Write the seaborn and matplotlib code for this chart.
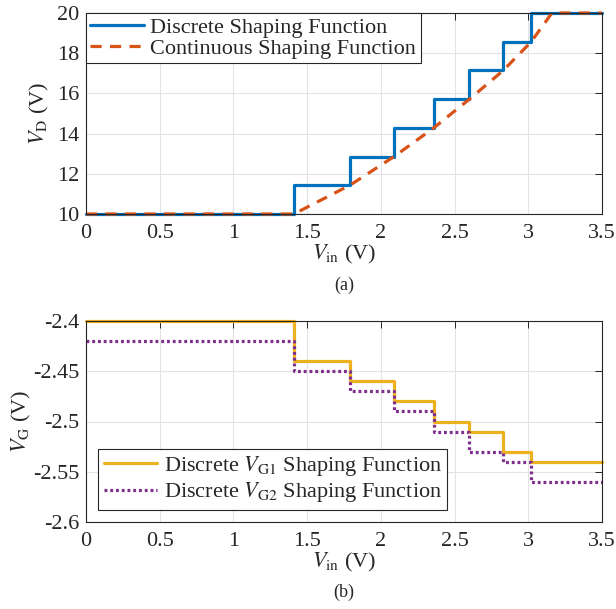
import numpy as np
import pandas as pd
import matplotlib
matplotlib.use("Agg")
import matplotlib.pyplot as plt
import seaborn as sns

# step breakpoints (V_in)
v_in_steps = [0, 1.41, 1.79, 2.09, 2.36, 2.60, 2.83, 3.02, 3.5]
# drain voltage levels (discrete)
vd_discrete = [10, 11.43, 12.86, 14.29, 15.71, 17.14, 18.57, 20, 20]
# continuous shaping function, sampled points
v_in_cont = [0, 1.41, 1.79, 2.09, 2.36, 2.60, 2.83, 3.02, 3.16, 3.5]
vd_cont = [10, 10, 11.43, 12.86, 14.29, 15.71, 17.14, 18.57, 20, 20]
# gate voltages
vg1 = [-2.40, -2.44, -2.46, -2.48, -2.50, -2.51, -2.53, -2.54, -2.54]
vg2 = [-2.42, -2.45, -2.47, -2.49, -2.51, -2.53, -2.54, -2.56, -2.56]

sns.set_theme(style="whitegrid")
plt.rcParams['font.family'] = ['Liberation Serif', 'DejaVu Serif']
plt.rcParams['mathtext.fontset'] = 'stix'

blue = '#0072BD'
orange = '#D95319'
yellow = '#EDB120'
purple = '#7E2F8E'
fs = 16

fig = plt.figure(figsize=(6.16, 6.09), dpi=100)
ax1 = fig.add_axes([86/616, 1-214/609, 516/616, 201/609])
ax2 = fig.add_axes([86/616, 1-522/609, 516/616, 201/609])

df_d = pd.DataFrame({'x': v_in_steps, 'y': vd_discrete})
df_c = pd.DataFrame({'x': v_in_cont, 'y': vd_cont})
sns.lineplot(data=df_d, x='x', y='y', ax=ax1, color=blue, lw=2.3,
             drawstyle='steps-post', sort=False, estimator=None,
             label='Discrete Shaping Function', clip_on=False)
sns.lineplot(data=df_c, x='x', y='y', ax=ax1, color=orange, lw=2.3,
             sort=False, estimator=None, label='Continuous Shaping Function',
             clip_on=False)
ax1.lines[1].set_dashes((3.5, 2.6))

df_g = pd.DataFrame({'x': v_in_steps, 'g1': vg1, 'g2': vg2})
sns.lineplot(data=df_g, x='x', y='g1', ax=ax2, color=yellow, lw=2.3,
             drawstyle='steps-post', sort=False, estimator=None,
             label=r'Discrete $V_{\mathrm{G1}}$ Shaping Function',
             clip_on=False)
sns.lineplot(data=df_g, x='x', y='g2', ax=ax2, color=purple, lw=2.3,
             drawstyle='steps-post', sort=False, estimator=None,
             label=r'Discrete $V_{\mathrm{G2}}$ Shaping Function')
ax2.lines[1].set_dashes((0.9, 0.9))

for ax in (ax1, ax2):
    ax.set_xlim(0, 3.5)
    ax.set_xticks(np.arange(0, 3.51, 0.5))
    ax.set_xticklabels(['0', '0.5', '1', '1.5', '2', '2.5', '3', '3.5'])
    ax.grid(True, color='#e3e3e3', lw=0.8)
    ax.set_facecolor('white')
    for s in ax.spines.values():
        s.set_color('#262626')
        s.set_linewidth(0.8)
    ax.tick_params(direction='in', length=5, width=0.7, color='#262626',
                   top=True, right=True, labelsize=fs, labelcolor='#262626')
    ax.tick_params(axis='x', pad=7)
    ax.tick_params(axis='y', pad=5)
    ax.set_xlabel(r'$V_{\mathrm{in}}$ (V)', fontsize=fs, labelpad=0)

ax1.set_ylim(10, 20)
ax1.set_yticks([10, 12, 14, 16, 18, 20])
ax1.set_ylabel(r'$V_{\mathrm{D}}$ (V)', fontsize=fs, labelpad=4)
ax2.set_ylim(-2.6, -2.4)
ax2.set_yticks([-2.6, -2.55, -2.5, -2.45, -2.4])
ax2.set_yticklabels(['-2.6', '-2.55', '-2.5', '-2.45', '-2.4'])
ax2.set_ylabel(r'$V_{\mathrm{G}}$ (V)', fontsize=fs, labelpad=0)

leg1 = ax1.legend(loc='upper left', bbox_to_anchor=(0, 1), borderaxespad=0,
                  fancybox=False, framealpha=1, edgecolor='#262626',
                  fontsize=fs, handlelength=2.4, handletextpad=0.3,
                  labelspacing=0.0, borderpad=0.2)
leg1.get_frame().set_linewidth(0.8)
leg1.set_zorder(5)
leg2 = ax2.legend(loc='lower left', bbox_to_anchor=(12/516, 12/201),
                  borderaxespad=0, fancybox=False, framealpha=1,
                  edgecolor='#262626', fontsize=fs, handlelength=2.4,
                  handletextpad=0.3, labelspacing=0.1, borderpad=0.25)
leg2.get_frame().set_linewidth(0.8)

fig.text(344/616, 1-285/609, '(a)', ha='center', va='center', fontsize=13)
fig.text(344/616, 1-592/609, '(b)', ha='center', va='center', fontsize=13)

fig.savefig('out.png', dpi=100)
